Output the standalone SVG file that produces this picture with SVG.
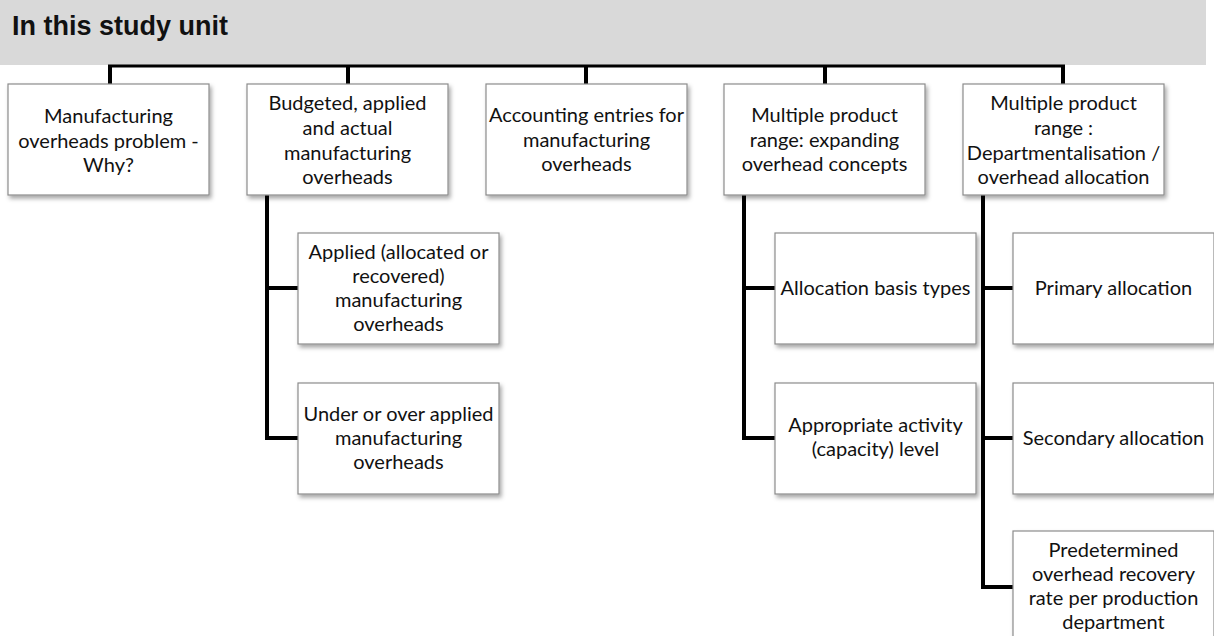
<svg xmlns="http://www.w3.org/2000/svg" width="1214" height="636" viewBox="0 0 1214 636">
  <defs>
    <filter id="sh" x="-10%" y="-10%" width="130%" height="130%">
      <feDropShadow dx="2" dy="3" stdDeviation="2" flood-color="#000" flood-opacity="0.35"/>
    </filter>
    <style>
      .box { fill: #fff; stroke: #8c8c8c; stroke-width: 1.2; filter: url(#sh); }
      .t { font-family: Lato, "Open Sans", sans-serif; font-size: 20px; fill: #111; text-anchor: middle; }
      .conn { stroke: #000; stroke-width: 4; fill: none; }
      .hdr { font-family: "Liberation Sans", Arial, sans-serif; font-weight: bold; font-size: 27px; fill: #111; }
    </style>
  </defs>
  <rect x="0" y="0" width="1214" height="636" fill="#fff"/>
  <g id="header">
    <rect x="0" y="0" width="1206" height="65" fill="#d9d9d9"/>
    <text class="hdr" x="12" y="35">In this study unit</text>
  </g>
  <g id="connectors">
    <line x1="108" y1="66" x2="1065" y2="66" stroke="#000" stroke-width="3"/>
    <path class="conn" d="M110 66V84M348 66V84M586 66V84M825 66V84M1063 66V84"/>
    <path class="conn" d="M267 195V438H298M267 288H298"/>
    <path class="conn" d="M744 195V438H775M744 288H775"/>
    <path class="conn" d="M983 195V587H1013M983 288H1013M983 438H1013"/>
  </g>
  <g id="n1">
    <rect class="box" x="8" y="84" width="201" height="111"/>
    <text class="t" x="108.5" y="123">Manufacturing</text>
    <text class="t" x="108.5" y="148">overheads problem -</text>
    <text class="t" x="108.5" y="172">Why?</text>
  </g>
  <g id="n2">
    <rect class="box" x="247" y="84" width="201" height="111"/>
    <text class="t" x="347.5" y="110">Budgeted, applied</text>
    <text class="t" x="347.5" y="135">and actual</text>
    <text class="t" x="347.5" y="160">manufacturing</text>
    <text class="t" x="347.5" y="184">overheads</text>
  </g>
  <g id="n3">
    <rect class="box" x="486" y="84" width="201" height="111"/>
    <text class="t" x="586.5" y="122">Accounting entries for</text>
    <text class="t" x="586.5" y="147">manufacturing</text>
    <text class="t" x="586.5" y="171">overheads</text>
  </g>
  <g id="n4">
    <rect class="box" x="724" y="84" width="201" height="111"/>
    <text class="t" x="824.5" y="122">Multiple product</text>
    <text class="t" x="824.5" y="147">range: expanding</text>
    <text class="t" x="824.5" y="171">overhead concepts</text>
  </g>
  <g id="n5">
    <rect class="box" x="963" y="84" width="201" height="111"/>
    <text class="t" x="1063.5" y="110">Multiple product</text>
    <text class="t" x="1063.5" y="135">range :</text>
    <text class="t" x="1063.5" y="160">Departmentalisation /</text>
    <text class="t" x="1063.5" y="184">overhead allocation</text>
  </g>
  <g id="n2a">
    <rect class="box" x="298" y="233" width="201" height="111"/>
    <text class="t" x="398.5" y="259">Applied (allocated or</text>
    <text class="t" x="398.5" y="283">recovered)</text>
    <text class="t" x="398.5" y="307">manufacturing</text>
    <text class="t" x="398.5" y="331">overheads</text>
  </g>
  <g id="n2b">
    <rect class="box" x="298" y="383" width="201" height="111"/>
    <text class="t" x="398.5" y="421">Under or over applied</text>
    <text class="t" x="398.5" y="445">manufacturing</text>
    <text class="t" x="398.5" y="469">overheads</text>
  </g>
  <g id="n4a">
    <rect class="box" x="775" y="233" width="201" height="111"/>
    <text class="t" x="875.5" y="295">Allocation basis types</text>
  </g>
  <g id="n4b">
    <rect class="box" x="775" y="383" width="201" height="111"/>
    <text class="t" x="875.5" y="432">Appropriate activity</text>
    <text class="t" x="875.5" y="456">(capacity) level</text>
  </g>
  <g id="n5a">
    <rect class="box" x="1013" y="233" width="201" height="111"/>
    <text class="t" x="1113.5" y="295">Primary allocation</text>
  </g>
  <g id="n5b">
    <rect class="box" x="1013" y="383" width="201" height="111"/>
    <text class="t" x="1113.5" y="445">Secondary allocation</text>
  </g>
  <g id="n5c">
    <rect class="box" x="1013" y="531" width="201" height="111"/>
    <text class="t" x="1113.5" y="557">Predetermined</text>
    <text class="t" x="1113.5" y="581">overhead recovery</text>
    <text class="t" x="1113.5" y="605">rate per production</text>
    <text class="t" x="1113.5" y="629">department</text>
  </g>
</svg>
